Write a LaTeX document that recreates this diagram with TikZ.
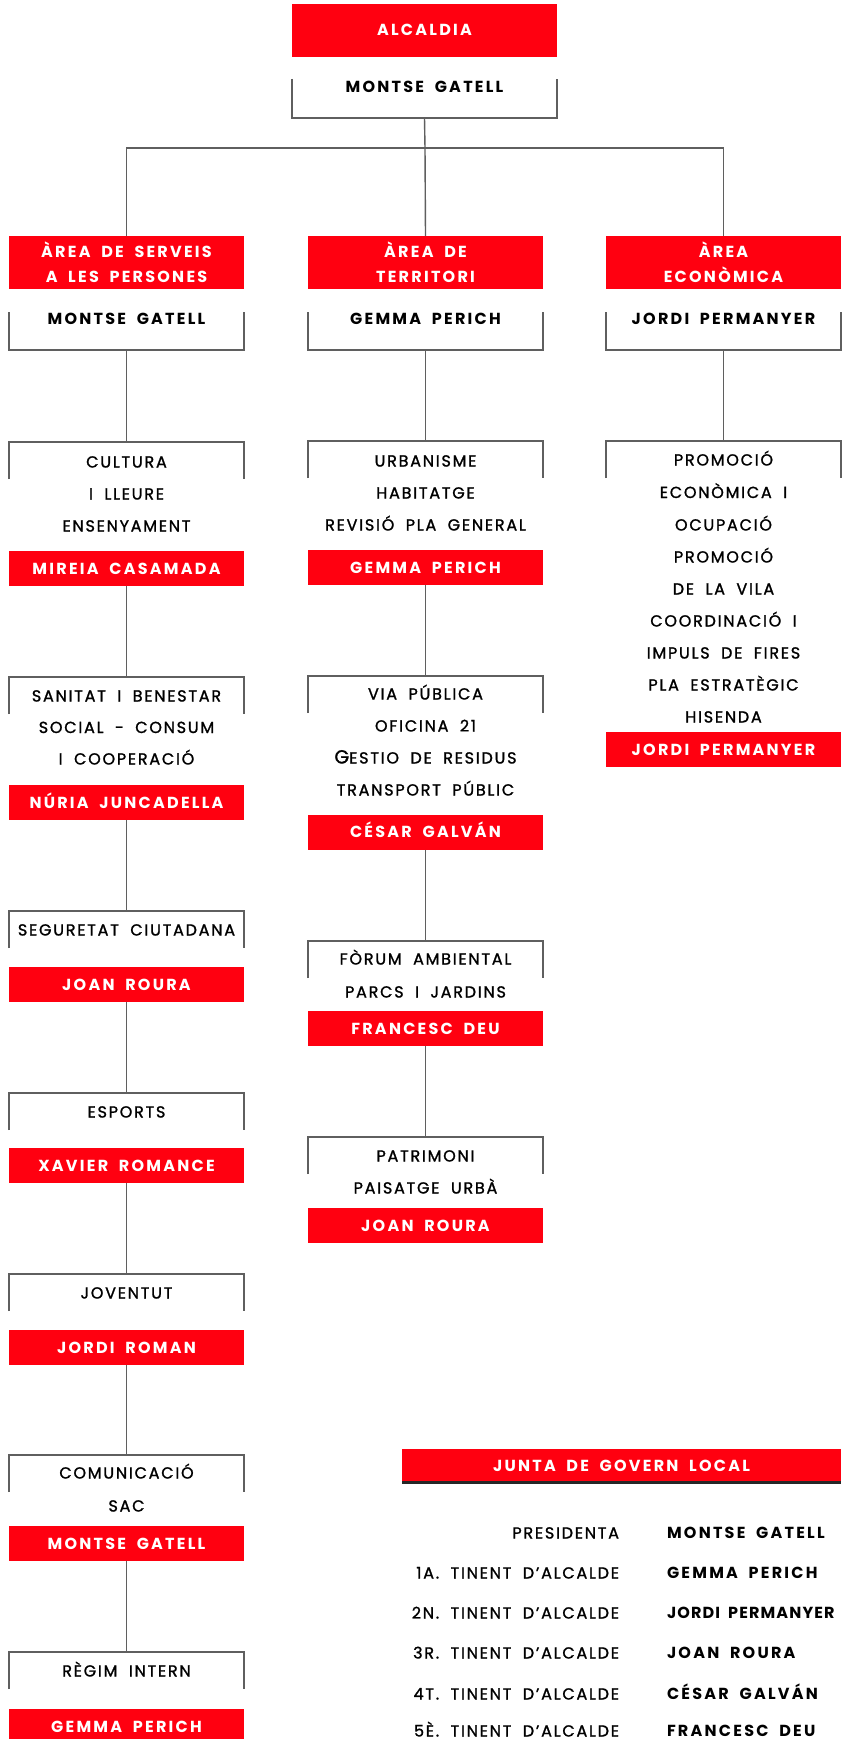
\documentclass[tikz,border=0pt]{standalone}
\usepackage{fontspec}
\newfontfamily\pfamR{Poppins}[LetterSpace=11, WordSpace=1.9, FakeBold=1.3]
\newfontfamily\pfamB{Poppins}[LetterSpace=14, WordSpace=1.9]
\newfontfamily\pfamJ{Poppins}[LetterSpace=7, WordSpace=1.8]
\newcommand\tfont{\pfamR\fontsize{16}{16}\selectfont}
\newcommand\hfont{\pfamB\bfseries\fontsize{16}{16}\selectfont}
\newcommand\jfont{\pfamJ\bfseries\fontsize{16}{16}\selectfont}
\definecolor{ared}{RGB}{255,0,16}
\definecolor{lgray}{RGB}{95,95,95}
\tikzset{
  gline/.style={draw=lgray, line width=1.4pt},
  frame/.style={rectangle, inner sep=0pt, outer sep=0pt, minimum width=235pt, minimum height=37pt},
  redbox/.style={rectangle, fill=ared, inner sep=0pt, outer sep=0pt, minimum width=235pt, minimum height=35pt, text=white, font=\hfont, text height=11pt, text depth=0pt},
  lbl/.style={inner sep=0pt, outer sep=0pt, text height=11pt, text depth=0pt, font=\tfont},
  namelbl/.style={lbl, font=\hfont},
  redlbl/.style={lbl, text=white, font=\hfont},
}
% open-bottom frame: name, cx, top
\newcommand\subframe[3]{%
  \node[frame] (#1) at (#2,#3+18.5) {};
  \draw[gline] (#1.south west) -- (#1.north west) -- (#1.north east) -- (#1.south east);}
% open-top frame: name, cx, centre y, height, width
\newcommand\topframe[5]{%
  \node[frame, minimum height=#4pt, minimum width=#5pt] (#1) at (#2,#3) {};
  \draw[gline] (#1.north west) -- (#1.south west) -- (#1.south east) -- (#1.north east);}
\begin{document}
\begin{tikzpicture}[x=1pt,y=-1pt]
\useasboundingbox[fill=white] (0,0) rectangle (850,1739);

% ---------- top ----------
\node[redbox, minimum width=265pt, minimum height=53pt] (alc) at (424.5,30.5) {ALCALDIA};
\topframe{f0}{424.5}{98.5}{39}{265}
\node[namelbl] (f0t) at (424.5,87) {MONTSE GATELL};
\coordinate (busM) at (425,148);

% ---------- areas ----------
\node[redbox, minimum height=53pt] (aS) at (126.5,262.5) {};
\node[redlbl] (aS1) at (126.5,252) {ÀREA DE SERVEIS};
\node[redlbl] (aS2) at (126.5,277) {A LES PERSONES};
\node[redbox, minimum height=53pt] (aT) at (425.5,262.5) {};
\node[redlbl] (aT1) at (425.5,252) {ÀREA DE};
\node[redlbl] (aT2) at (425.5,277) {TERRITORI};
\node[redbox, minimum height=53pt] (aE) at (723.5,262.5) {};
\node[redlbl] (aE1) at (723.5,252) {ÀREA};
\node[redlbl] (aE2) at (723.5,277) {ECONÒMICA};

\draw[gline] (f0.south) -- (busM) -- (aT.north);
\draw[gline] (aS.north) |- (busM) -| (aE.north);

\topframe{nS}{126.5}{331}{38}{235}
\node[namelbl] (nSt) at (126.5,319) {MONTSE GATELL};
\topframe{nT}{425.5}{331}{38}{235}
\node[namelbl] (nTt) at (425.5,319) {GEMMA PERICH};
\topframe{nE}{723.5}{331}{38}{235}
\node[namelbl] (nEt) at (723.5,319) {JORDI PERMANYER};

% ---------- left column ----------
\subframe{cul}{126.5}{442}
\node[lbl] (cul1) at (126.5,462) {CULTURA};
\node[lbl] (cul2) at (126.5,494) {I LLEURE};
\node[lbl] (cul3) at (126.5,526) {ENSENYAMENT};
\node[redbox] (r1) at (126.5,568.5) {MIREIA CASAMADA};

\subframe{san}{126.5}{677}
\node[lbl] (san1) at (126.5,696) {SANITAT I BENESTAR};
\node[lbl] (san2) at (126.5,727.5) {SOCIAL - CONSUM};
\node[lbl] (san3) at (126.5,759) {I COOPERACIÓ};
\node[redbox] (r2) at (126.5,802.5) {NÚRIA JUNCADELLA};

\subframe{seg}{126.5}{911}
\node[lbl] (seg1) at (126.5,930) {SEGURETAT CIUTADANA};
\node[redbox] (r3) at (126.5,984.5) {JOAN ROURA};

\subframe{esp}{126.5}{1093}
\node[lbl] (esp1) at (126.5,1112) {ESPORTS};
\node[redbox] (r4) at (126.5,1165.5) {XAVIER ROMANCE};

\subframe{jov}{126.5}{1274}
\node[lbl] (jov1) at (126.5,1293) {JOVENTUT};
\node[redbox] (r5) at (126.5,1347.5) {JORDI ROMAN};

\subframe{com}{126.5}{1455}
\node[lbl] (com1) at (126.5,1473) {COMUNICACIÓ};
\node[lbl] (com2) at (126.5,1506) {SAC};
\node[redbox] (r6) at (126.5,1543.5) {MONTSE GATELL};

\subframe{reg}{126.5}{1652}
\node[lbl] (reg1) at (126.5,1671) {RÈGIM INTERN};
\node[redbox] (r7) at (126.5,1726.5) {GEMMA PERICH};

\draw[gline] (nS.south) -- (cul.north);
\draw[gline] (r1.south) -- (san.north);
\draw[gline] (r2.south) -- (seg.north);
\draw[gline] (r3.south) -- (esp.north);
\draw[gline] (r4.south) -- (jov.north);
\draw[gline] (r5.south) -- (com.north);
\draw[gline] (r6.south) -- (reg.north);

% ---------- middle column ----------
\subframe{urb}{425.5}{441}
\node[lbl] (urb1) at (425.5,461) {URBANISME};
\node[lbl] (urb2) at (425.5,493) {HABITATGE};
\node[lbl] (urb3) at (425.5,525) {REVISIÓ PLA GENERAL};
\node[redbox] (m1) at (425.5,567.5) {GEMMA PERICH};

\subframe{via}{425.5}{676}
\node[lbl] (via1) at (425.5,694) {VIA PÚBLICA};
\node[lbl] (via2) at (425.5,726) {OFICINA 21};
\node[lbl] (via3) at (425.5,758) {{\fontsize{19}{19}\selectfont G}ESTIO DE RESIDUS};
\node[lbl] (via4) at (425.5,790) {TRANSPORT PÚBLIC};
\node[redbox] (m2) at (425.5,832) {CÉSAR GALVÁN};

\subframe{for}{425.5}{941}
\node[lbl] (for1) at (425.5,959) {FÒRUM AMBIENTAL};
\node[lbl] (for2) at (425.5,992) {PARCS I JARDINS};
\node[redbox] (m3) at (425.5,1028.5) {FRANCESC DEU};

\subframe{pat}{425.5}{1137}
\node[lbl] (pat1) at (425.5,1156) {PATRIMONI};
\node[lbl] (pat2) at (425.5,1188) {PAISATGE URBÀ};
\node[redbox] (m4) at (425.5,1225.5) {JOAN ROURA};

\draw[gline] (nT.south) -- (urb.north);
\draw[gline] (m1.south) -- (via.north);
\draw[gline] (m2.south) -- (for.north);
\draw[gline] (m3.south) -- (pat.north);

% ---------- right column ----------
\subframe{pro}{723.5}{441}
\node[lbl] (pro1) at (723.5,460) {PROMOCIÓ};
\node[lbl] (pro2) at (723.5,492.5) {ECONÒMICA I};
\node[lbl] (pro3) at (723.5,525) {OCUPACIÓ};
\node[lbl] (pro4) at (723.5,557) {PROMOCIÓ};
\node[lbl] (pro5) at (723.5,589) {DE LA VILA};
\node[lbl] (pro6) at (723.5,621) {COORDINACIÓ I};
\node[lbl] (pro7) at (723.5,653) {IMPULS DE FIRES};
\node[lbl] (pro8) at (723.5,685) {PLA ESTRATÈGIC};
\node[lbl] (pro9) at (723.5,717) {HISENDA};
\node[redbox] (e1) at (723.5,749.5) {JORDI PERMANYER};
\draw[gline] (nE.south) -- (pro.north);

% ---------- junta ----------
\node[redbox, minimum width=439pt, minimum height=34pt] (j0) at (621.5,1465.5) {JUNTA DE GOVERN LOCAL};
\draw[line width=2.2pt, black!85] (j0.south west) -- (j0.south east);

\node[lbl, anchor=east] (jl1) at (619,1533) {PRESIDENTA};
\node[lbl, anchor=east] (jl2) at (619,1573) {1A. TINENT D’ALCALDE};
\node[lbl, anchor=east] (jl3) at (619,1613) {2N. TINENT D’ALCALDE};
\node[lbl, anchor=east] (jl4) at (619,1653) {3R. TINENT D’ALCALDE};
\node[lbl, anchor=east] (jl5) at (619,1694) {4T. TINENT D’ALCALDE};
\node[lbl, anchor=east] (jl6) at (619,1731) {5È. TINENT D’ALCALDE};
\node[namelbl, anchor=west] (jn1) at (667,1533) {MONTSE GATELL};
\node[namelbl, anchor=west] (jn2) at (667,1573) {GEMMA PERICH};
\node[lbl, font=\jfont, anchor=west] (jn3) at (667,1613) {JORDI PERMANYER};
\node[namelbl, anchor=west] (jn4) at (667,1653) {JOAN ROURA};
\node[namelbl, anchor=west] (jn5) at (667,1694) {CÉSAR GALVÁN};
\node[namelbl, anchor=west] (jn6) at (667,1731) {FRANCESC DEU};
\end{tikzpicture}
\end{document}
